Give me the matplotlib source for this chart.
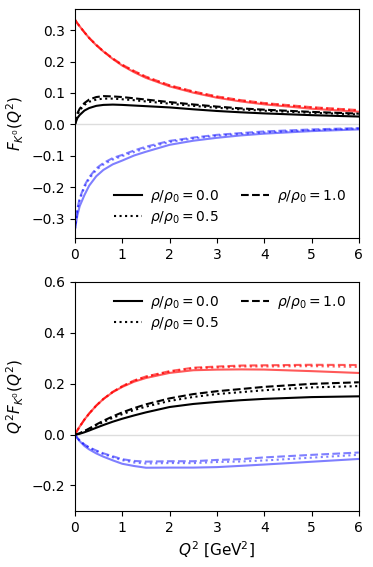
import numpy as np
import matplotlib
matplotlib.use("Agg")
import matplotlib.pyplot as plt

# Q^2 grid (GeV^2)
q2 = np.array([0, 0.05, 0.1, 0.2, 0.3, 0.45, 0.6, 0.8, 1.0, 1.25, 1.5,
               2.0, 2.5, 3.0, 3.5, 4.0, 5.0, 6.0])

# red component, rho/rho0 = 0.0, 0.5, 1.0
red_00 = [0.333, 0.322, 0.312, 0.293, 0.275, 0.252, 0.232, 0.208, 0.187, 0.166, 0.148,
          0.121, 0.101, 0.085, 0.0731, 0.0638, 0.0498, 0.0403]
red_05 = [0.333, 0.322, 0.312, 0.293, 0.275, 0.2525, 0.2325, 0.209, 0.189, 0.169, 0.151,
          0.1235, 0.104, 0.0878, 0.0763, 0.0668, 0.0537, 0.0443]
red_10 = [0.333, 0.322, 0.312, 0.293, 0.275, 0.253, 0.233, 0.210, 0.190, 0.170, 0.152,
          0.1245, 0.105, 0.089, 0.0774, 0.068, 0.0548, 0.0455]

# blue component
blue_00 = [-0.333, -0.29, -0.26, -0.225, -0.195, -0.165, -0.145, -0.127, -0.115, -0.099, -0.087,
           -0.065, -0.052, -0.0427, -0.0352, -0.0295, -0.0214, -0.016]
blue_05 = [-0.333, -0.275, -0.24, -0.2, -0.173, -0.145, -0.128, -0.112, -0.101, -0.088, -0.076,
           -0.056, -0.045, -0.036, -0.0303, -0.0255, -0.0182, -0.0133]
blue_10 = [-0.333, -0.27, -0.235, -0.195, -0.168, -0.14, -0.123, -0.107, -0.097, -0.083, -0.071,
           -0.0525, -0.042, -0.0333, -0.0277, -0.0225, -0.016, -0.0118]

# total (black)
tot_00 = [0, 0.02, 0.03, 0.044, 0.052, 0.059, 0.062, 0.063, 0.062, 0.060, 0.058,
          0.054, 0.048, 0.0427, 0.0385, 0.035, 0.0294, 0.025]
tot_05 = [0, 0.03, 0.045, 0.062, 0.072, 0.079, 0.082, 0.082, 0.080, 0.077, 0.073,
          0.066, 0.059, 0.053, 0.0475, 0.0435, 0.037, 0.0317]
tot_10 = [0, 0.035, 0.05, 0.068, 0.079, 0.087, 0.090, 0.089, 0.087, 0.083, 0.079,
          0.071, 0.0635, 0.0567, 0.051, 0.0468, 0.0398, 0.0342]

densities = ["0.0", "0.5", "1.0"]
styles = ["-", ":", "--"]
red_sets = [red_00, red_05, red_10]
blue_sets = [blue_00, blue_05, blue_10]
tot_sets = [tot_00, tot_05, tot_10]

fig = plt.figure(figsize=(3.73, 5.67), dpi=100)
ax1 = fig.add_axes([0.201, 0.580, 0.761, 0.404])
ax2 = fig.add_axes([0.201, 0.099, 0.761, 0.404])

leg_kw = dict(ncol=2, frameon=False, fontsize=10, columnspacing=1.6,
              handletextpad=0.6, labelspacing=0.25)

for ax, scaled in [(ax1, False), (ax2, True)]:
    ax.axhline(0, color="#dddddd", lw=1, zorder=0)
    for i in range(3):
        fac = q2 if scaled else 1.0
        ax.plot(q2, fac * np.array(red_sets[i]), color="red", alpha=0.65, ls=styles[i], lw=1.5)
        ax.plot(q2, fac * np.array(blue_sets[i]), color="blue", alpha=0.5, ls=styles[i], lw=1.5)
        ax.plot(q2, fac * np.array(tot_sets[i]), color="black", ls=styles[i], lw=1.5,
                label=r"$\rho/\rho_0 = %s$" % densities[i])
    ax.set_xlim(0, 6)

ax1.set_ylim(-0.362, 0.367)
ax1.set_yticks([-0.3, -0.2, -0.1, 0.0, 0.1, 0.2, 0.3])
ax1.set_ylabel(r"$F_{K^0}(Q^2)$", fontsize=11)
ax1.legend(loc="lower right", **leg_kw)

ax2.set_ylim(-0.3, 0.6)
ax2.set_yticks([-0.2, 0.0, 0.2, 0.4, 0.6])
ax2.set_ylabel(r"$Q^2F_{K^0}(Q^2)$", fontsize=11)
ax2.set_xlabel(r"$Q^2$ [GeV$^2$]", fontsize=11)
ax2.legend(loc="upper right", **leg_kw)

fig.savefig("out.png", dpi=100)
